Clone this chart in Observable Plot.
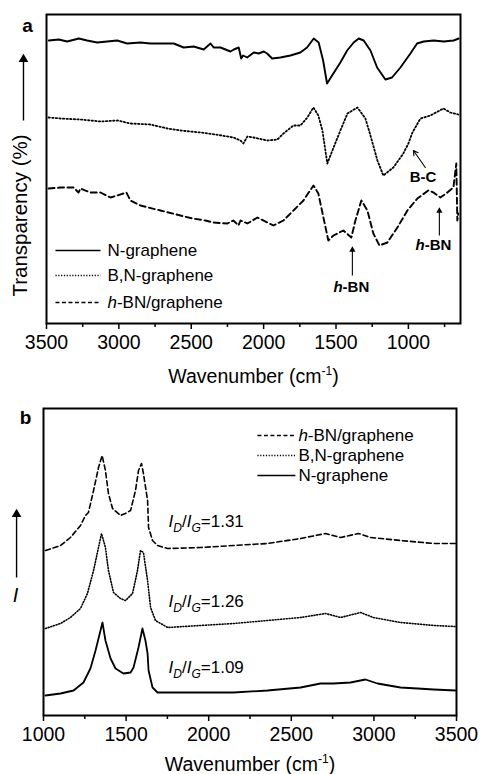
<!DOCTYPE html>
<html><head><meta charset="utf-8">
<script src="https://cdn.jsdelivr.net/npm/d3@7"></script>
<script src="https://cdn.jsdelivr.net/npm/@observablehq/plot@0.6"></script>
<style>
body{margin:0;background:#fff;}
#chart{width:481px;}
svg{display:block;}
</style></head><body><div id="chart"></div>
<script>
// ---------- Panel a: FTIR (wavenumber, transparency in arbitrary offset units) ----------
const ftirNWave = [3484,3415,3357,3277,3219,3150,3081,3012,2943,2851,2782,2713,2621,2552,2483,2414,2367,2345,2298,2229,2206,2172,2155,2142,2114,2068,2034,1999,1976,1941,1884,1815,1746,1700,1654,1620,1589,1562,1527,1470,1423,1378,1343,1309,1262,1216,1159,1113,1055,986,940,894,825,756,687,653];
const ftirN = [283,284,282,285,283,281,282,283,280,281,280,280,280,276,277,274,280,276,276,272,274,276,265,268,266,271,270,272,270,265,266,268,271,276,285,281,263,240,248,261,273,281,285,283,273,256,244,246,256,270,280,282,283,282,283,285];
const ftirBNWave = [3486,3403,3265,3127,3010,2920,2782,2664,2575,2437,2333,2209,2160,2140,2112,2070,1974,1905,1863,1794,1746,1698,1656,1622,1594,1560,1525,1470,1421,1352,1297,1262,1214,1173,1104,1035,1000,972,917,848,758,710,655];
const ftirBN = [206,205,204,202,203,200,199,195,193,191,189,186,183,180,187,186,183,184,190,198,198,206,216,208,193,160,173,193,210,216,205,188,163,148,156,170,180,191,205,208,215,211,209];
const ftirHWave = [3486,3403,3314,3279,3265,3196,3127,3058,2968,2948,2920,2851,2713,2575,2492,2402,2347,2250,2209,2174,2160,2112,2043,1974,1932,1863,1794,1725,1656,1622,1587,1553,1518,1449,1394,1366,1325,1283,1242,1200,1145,1076,1007,938,862,827,779,731,689,669,662,655];
const ftirH = [135,136,136,131,135,131,131,126,130,131,123,118,113,108,105,103,101,100,103,98,103,100,106,101,98,103,113,123,138,130,106,83,88,93,86,103,123,113,90,78,81,96,113,125,133,131,126,131,136,160,103,110];
const ticksA = [3500,3000,2500,2000,1500,1000];
const minorA = [3250,2750,2250,1750,1250,750];

// ---------- Panel b: Raman (wavenumber, intensity in arbitrary offset units) ----------
const ramHWave = [1012,1103,1163,1224,1254,1272,1303,1333,1355,1375,1393,1418,1466,1496,1527,1557,1575,1593,1605,1630,1636,1660,1690,1751,1950,2150,2356,2556,2707,2798,2907,2979,3161,3361,3494];
const ramH = [165,170,178,190,200,203,225,248,260,245,222,207,200,202,205,225,245,252,242,215,188,175,170,167,168,170,172,177,182,178,182,178,175,172,172];
const ramBNWave = [1012,1103,1163,1224,1266,1303,1333,1351,1375,1393,1424,1466,1496,1539,1569,1587,1605,1630,1648,1678,1751,1950,2150,2356,2556,2707,2798,2919,2997,3161,3361,3494];
const ramBN = [87,92,98,107,122,145,168,182,168,145,123,117,115,122,145,165,163,135,108,95,88,90,92,95,98,102,98,103,98,93,90,89];
const ramNWave = [1012,1103,1182,1242,1284,1315,1345,1357,1375,1406,1436,1484,1527,1545,1575,1599,1617,1630,1636,1660,1690,1751,1950,2150,2356,2556,2677,2755,2858,2949,3022,3161,3264,3361,3494];
const ramN = [20,22,25,33,47,65,85,93,75,57,47,42,43,48,68,87,75,62,45,28,23,23,23,23,25,28,32,32,33,36,32,28,27,26,25];
const ratioLabels = ["ID/IG=1.31","ID/IG=1.26","ID/IG=1.09"];
const ticksB = [1000,1500,2000,2500,3000,3500];
const minorB = [1250,1750,2250,2750,3250];

const seriesNames = ["N-graphene","B,N-graphene","h-BN/graphene"];
const xLabel = "Wavenumber (cm-1)";

// ---------- helpers ----------
const FONT = "'Liberation Sans', Arial, Helvetica, sans-serif";
const DASHES = [null, "1.2,1.6", "4,2.5"];
const ser = (w, v) => w.map((x, i) => ({w: x, v: v[i]}));
const lineOpts = (dash, sw) => ({x: "w", y: "v", stroke: "#000", strokeWidth: sw, strokeDasharray: dash, strokeLinejoin: "round"});
const legendMarks = (rows, x1, x2, xt) => [
  ...rows.map(r => Plot.link([r], {x1: () => x1, x2: () => x2, y1: "y", y2: "y", stroke: "#000", strokeWidth: 1.5, strokeDasharray: DASHES[r.s]})),
  Plot.text(rows, {x: () => xt, y: "y", text: d => seriesNames[d.s], textAnchor: "start", fontSize: 17})
];
// upward arrow with filled triangular head (y units are ~1px in both panels)
const upArrow = (x, y1, tip, r, sw) => {
  const h = r * 1.55;
  return [
    Plot.link([{x, y1, y2: tip - h * 0.6}], {x1: "x", x2: "x", y1: "y1", y2: "y2", stroke: "#000", strokeWidth: sw}),
    Plot.dot([{x, y: tip - h * 0.67}], {x: "x", y: "y", symbol: "triangle", r, fill: "#000", stroke: "none"})
  ];
};

const chartA = Plot.plot({
  width: 481, height: 380,
  marginLeft: 46, marginRight: 21, marginTop: 14, marginBottom: 57,
  style: {fontFamily: FONT, fontSize: "19px", color: "#000", background: "#fff", overflow: "visible"},
  x: {domain: [3500, 640], label: null},
  y: {domain: [0, 309], axis: null},
  marks: [
    Plot.line(ser(ftirNWave, ftirN), lineOpts(null, 1.9)),
    Plot.line(ser(ftirBNWave, ftirBN), lineOpts("1.4,2.2", 1.8)),
    Plot.line(ser(ftirHWave, ftirH), lineOpts("6,3.5", 1.9)),
    ...legendMarks([{s: 0, y: 73}, {s: 1, y: 48}, {s: 2, y: 21}], 3438, 3127, 3079),
    // annotations
    ...upArrow(1387, 48, 76, 2.3, 1.1),
    ...upArrow(786, 88, 115, 2.3, 1.1),
    Plot.arrow([{x1: 883, y1: 156, x2: 965, y2: 173}],
      {x1: "x1", y1: "y1", x2: "x2", y2: "y2", stroke: "#000", strokeWidth: 1.1, headLength: 7}),
    Plot.text([{x: 1394, y: 36, t: "h-BN"}, {x: 827, y: 78, t: "h-BN"}, {x: 899, y: 146, t: "B-C"}],
      {x: "x", y: "y", text: "t", fontSize: 15, fontWeight: "bold"}),
    // y label + arrow
    Plot.text([{x: 3680, y: 108}], {x: "x", y: "y", text: () => "Transparency (%)", rotate: -90, fontSize: 20.5}),
    ...upArrow(3659, 203, 268, 3.6, 1.4),
    Plot.text([{x: 3631, y: 298}], {x: "x", y: "y", text: () => "a", fontSize: 19, fontWeight: "bold"}),
    Plot.frame({stroke: "#000", strokeWidth: 2}),
    Plot.axisX({ticks: ticksA, tickSize: 6, tickPadding: 6, tickFormat: d3.format("d"), label: null, strokeWidth: 1.5, fontSize: 19.5}),
    Plot.axisX({ticks: minorA, tickSize: 4, tickFormat: () => "", label: null, strokeWidth: 1.5}),
    Plot.text([xLabel], {frameAnchor: "bottom", lineAnchor: "middle", dy: 53, text: d => d, fontSize: 19.5})
  ]
});

const chartB = Plot.plot({
  width: 481, height: 394,
  marginLeft: 43, marginRight: 25, marginTop: 28, marginBottom: 59,
  style: {fontFamily: FONT, fontSize: "19px", color: "#000", background: "#fff", overflow: "visible"},
  x: {domain: [1000, 3500], label: null},
  y: {domain: [0, 307], axis: null},
  marks: [
    Plot.line(ser(ramHWave, ramH), lineOpts("5,3", 1.6)),
    Plot.line(ser(ramBNWave, ramBN), lineOpts("1,1.8", 1.6)),
    Plot.line(ser(ramNWave, ramN), lineOpts(null, 1.8)),
    ...legendMarks([{s: 2, y: 280}, {s: 1, y: 260}, {s: 0, y: 240}], 2295, 2525, 2543),
    // ratio labels
    Plot.text([{i: 0, y: 194}, {i: 1, y: 114}, {i: 2, y: 48}], {x: () => 1757, y: "y", text: d => ratioLabels[d.i], textAnchor: "start", fontSize: 17}),
    // y label + arrow
    Plot.text([{x: 830, y: 120}], {x: "x", y: "y", text: () => "I", fontSize: 20, fontStyle: "italic"}),
    ...upArrow(837, 138, 205, 3.6, 1.4),
    Plot.text([{x: 891, y: 298}], {x: "x", y: "y", text: () => "b", fontSize: 19, fontWeight: "bold"}),
    Plot.frame({stroke: "#000", strokeWidth: 2}),
    Plot.axisX({ticks: ticksB, tickSize: 6, tickPadding: 6, tickFormat: d3.format("d"), label: null, strokeWidth: 1.5, fontSize: 19.5}),
    Plot.axisX({ticks: minorB, tickSize: 4, tickFormat: () => "", label: null, strokeWidth: 1.5}),
    Plot.text([xLabel], {frameAnchor: "bottom", lineAnchor: "middle", dy: 49, text: d => d, fontSize: 19.5})
  ]
});

// rich text post-processing (italics, sub/superscripts)
function rich(svg) {
  d3.select(svg).selectAll("text").each(function () {
    const el = d3.select(this);
    if (this.querySelector("tspan")) return;
    const t = this.textContent;
    if (t === "h-BN" || t === "h-BN/graphene") {
      el.text(null);
      el.append("tspan").attr("font-style", "italic").text("h");
      el.append("tspan").text(t.slice(1));
    } else if (t === xLabel) {
      el.text(null);
      el.append("tspan").text("Wavenumber (cm");
      el.append("tspan").attr("font-size", 12).attr("dy", -8).text("-1");
      el.append("tspan").attr("dy", 8).text(")");
    } else if (t.startsWith("ID/IG=")) {
      el.text(null);
      el.append("tspan").attr("font-style", "italic").text("I");
      el.append("tspan").attr("font-style", "italic").attr("font-size", 12).attr("dy", 5).text("D");
      el.append("tspan").attr("dy", -5).text("/");
      el.append("tspan").attr("font-style", "italic").text("I");
      el.append("tspan").attr("font-style", "italic").attr("font-size", 12).attr("dy", 5).text("G");
      el.append("tspan").attr("dy", -5).text(t.slice(5));
    }
  });
}
rich(chartA); rich(chartB);
document.getElementById("chart").append(chartA, chartB);
</script>
</body></html>
